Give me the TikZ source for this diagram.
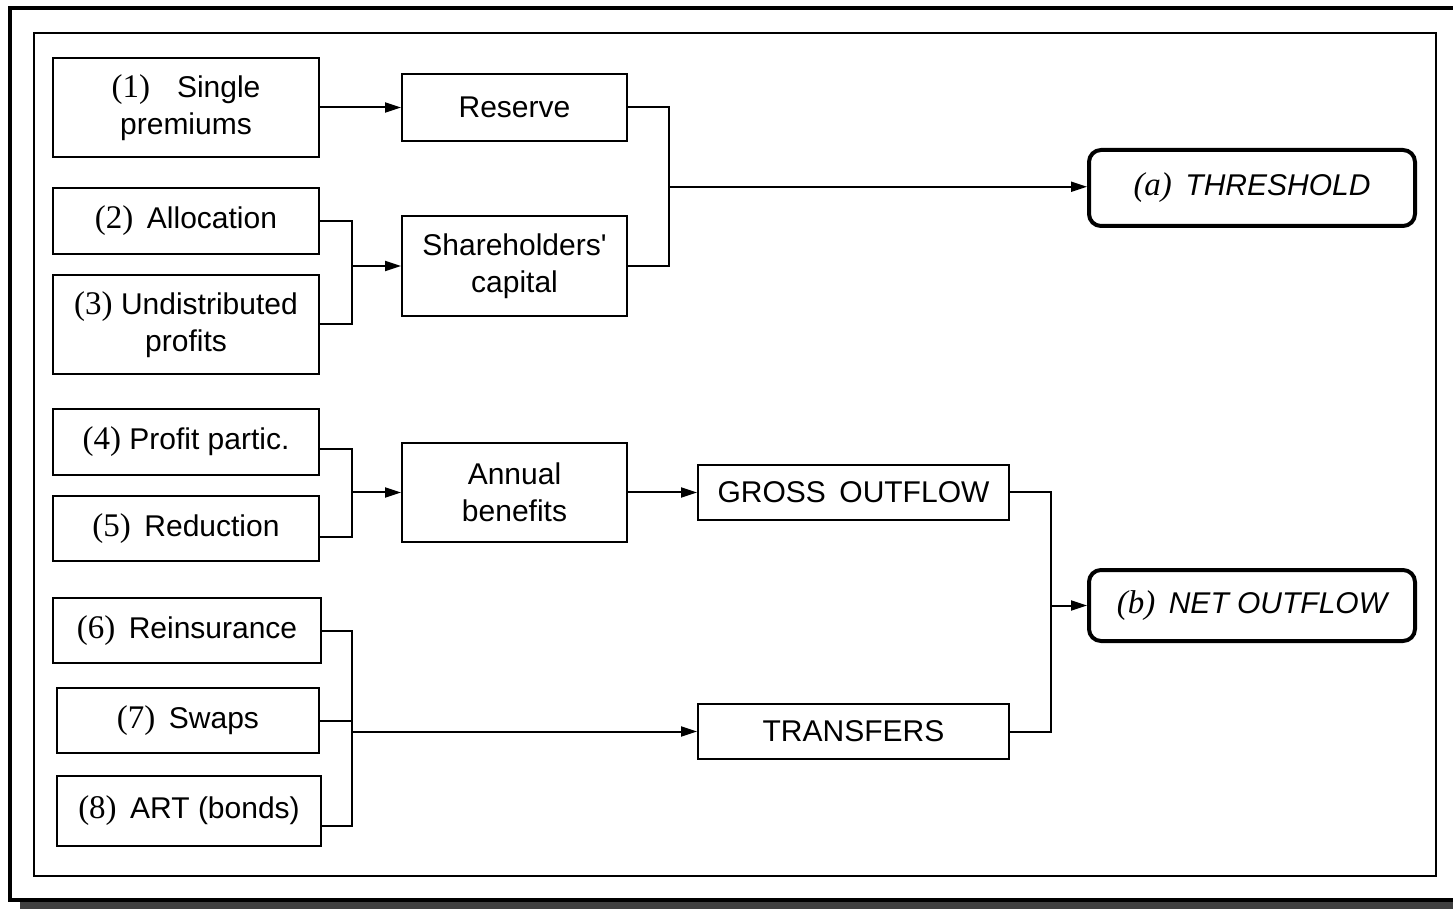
\documentclass[tikz,border=0pt]{standalone}
\usepackage{fontspec}
\setmainfont{Liberation Sans}
\newfontfamily\nrfont[Scale=1.1]{Liberation Serif}
\usetikzlibrary{arrows.meta, positioning, calc}

\newcommand{\nr}[1]{{\nrfont #1}}

\begin{document}
\begin{tikzpicture}[
    x=0.5pt, y=-0.5pt,
    font=\fontsize{15}{18.5}\selectfont,
    box/.style={draw, line width=1pt, align=center, inner sep=0pt},
    src/.style={box, minimum width=133pt},
    mid/.style={box, minimum width=112.5pt},
    flow/.style={box, minimum width=155.5pt, minimum height=27.5pt},
    goal/.style={draw, line width=2pt, rounded corners=6pt, align=center, inner sep=0pt, minimum width=163pt, font=\fontsize{15}{18.5}\selectfont\itshape},
    link/.style={line width=1pt},
    arr/.style={link, -{Triangle[length=8pt, width=5pt]}}
]
    \useasboundingbox (0,0) rectangle (1453,909);
    \clip (0,0) rectangle (1453,909);

    % Frames
    \fill[black!75] (20,902) rectangle (1470,915);
    \draw[line width=2pt] (10,8.5) rectangle (1470,900);
    \draw[line width=1pt] (33.5,33) rectangle (1436,876);

    % Threshold part
    \node[src, minimum height=49.5pt] (B1) at (186,107.5) {\nr{(1)}\hspace{0.9em}Single\\premiums};
    \node[mid, minimum height=33.5pt] (Res) at (514.5,107.5) {Reserve};
    \node[src, minimum height=33pt] (B2) at (186,221) {\nr{(2)}\hspace{0.45em}Allocation};
    \node[src, minimum height=49.5pt] (B3) at (186,324.5) {\nr{(3)} Undistributed\\profits};
    \node[mid, minimum height=50pt] (Cap) at (514.5,266) {Shareholders\textquotesingle\\capital};
    \node[goal, minimum height=38pt] (Thr) at (1252,188) {\nr{(a)}\hspace{0.45em}THRESHOLD};

    % Outflow part
    \node[src, minimum height=33pt] (B4) at (186,442) {\nr{(4)} Profit partic.};
    \node[src, minimum height=32.5pt] (B5) at (186,528.5) {\nr{(5)}\hspace{0.45em}Reduction};
    \node[mid, minimum height=49.5pt] (Ann) at (514.5,492.5) {Annual\\benefits};
    \node[flow] (Gross) at (853.5,492.5) {GROSS\hspace{0.45em}OUTFLOW};
    \node[goal, minimum height=35.5pt] (Net) at (1252,605.5) {\nr{(b)}\hspace{0.45em}NET OUTFLOW};

    % Transfers
    \node[box, minimum width=134pt, minimum height=32.5pt] (B6) at (187,630.5) {\nr{(6)}\hspace{0.45em}Reinsurance};
    \node[box, minimum width=131pt, minimum height=32.5pt] (B7) at (188,720.5) {\nr{(7)}\hspace{0.45em}Swaps};
    \node[box, minimum width=132pt, minimum height=35pt] (B8) at (189,811) {\nr{(8)}\hspace{0.45em}ART (bonds)};
    \node[flow] (Trans) at (853.5,731.5) {TRANSFERS};

    % Connectors, threshold
    \draw[arr] (B1) -- (Res);
    \draw[link] (B2.east) -- ++(32,0) coordinate (j2) |- (B3.east);
    \draw[arr] (Cap.west -| j2) -- (Cap.west);
    \draw[link] (Res.east) -- ++(41,0) coordinate (j1) |- (Cap.east);
    \coordinate (j1m) at ($(j1)!0.5!(j1 |- Cap.east)$);
    \draw[arr] (j1m) -- (j1m -| Thr.west);

    % Connectors, outflow
    \draw[link] ([yshift=-3.5pt]B4.east) -- ++(32,0) coordinate (j3) |- ([yshift=-4.5pt]B5.east);
    \draw[arr] (Ann.west -| j3) -- (Ann.west);
    \draw[arr] (Ann) -- (Gross);
    \draw[link] (B6.east) -- ++(30,0) coordinate (j4) |- ([yshift=-7.5pt]B8.east);
    \draw[link] (B7.east) -- (B7.east -| j4);
    \draw[arr] (Trans.west -| j4) -- (Trans.west);
    \draw[link] (Gross.east) -- ++(41,0) coordinate (j5) |- (Trans.east);
    \draw[arr] (Net.west -| j5) -- (Net.west);
\end{tikzpicture}
\end{document}
